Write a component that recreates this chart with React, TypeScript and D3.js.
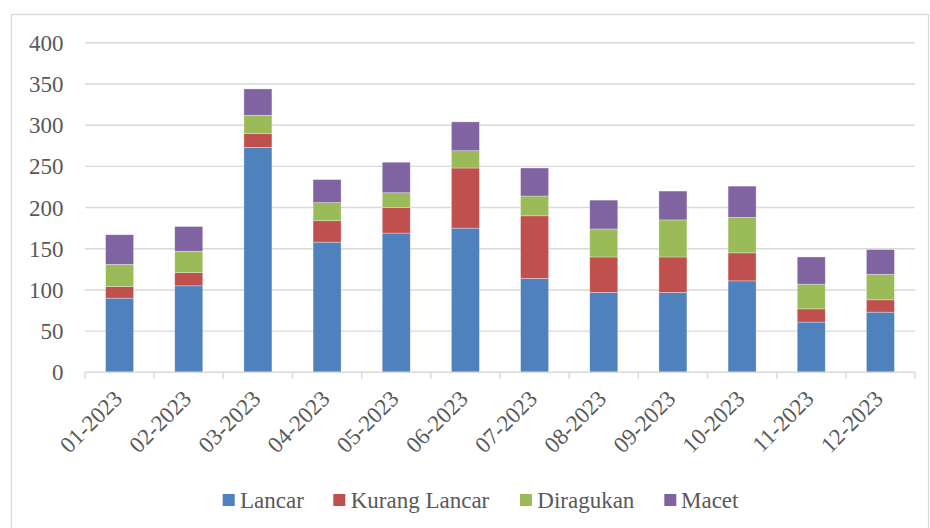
import React from "react";
import * as d3 from "d3";

const categories = ["01-2023","02-2023","03-2023","04-2023","05-2023","06-2023","07-2023","08-2023","09-2023","10-2023","11-2023","12-2023"];
const lancar = [90, 105, 273, 158, 169, 175, 114, 97, 97, 111, 61, 73];
const kurangLancar = [14, 16, 17, 26, 31, 73, 76, 43, 43, 34, 16, 15];
const diragukan = [27, 26, 22, 22, 18, 21, 24, 34, 45, 43, 30, 31];
const macet = [36, 30, 32, 28, 37, 35, 34, 35, 35, 38, 33, 30];
const seriesNames = ["Lancar", "Kurang Lancar", "Diragukan", "Macet"];
const seriesColors = ["#4F81BD", "#C0504D", "#9BBB59", "#8064A2"];
const yTicks = [0, 50, 100, 150, 200, 250, 300, 350, 400];

const W = 930, H = 528;
const plotL = 85, plotR = 915, plotTop = 42.8, plotBottom = 372.3;
const TEXT = "#595959";
const GRID = "#d9d9d9";
const txtStyle: React.CSSProperties = { fontFamily: '"Liberation Serif"', fontSize: 23 };

export default function App() {
  const x = d3.scaleBand<string>().domain(categories).range([plotL, plotR]).padding(0);
  const y = d3.scaleLinear().domain([0, 400]).range([plotBottom, plotTop]);
  const rows = categories.map((c, i) => ({
    cat: c,
    Lancar: lancar[i],
    "Kurang Lancar": kurangLancar[i],
    Diragukan: diragukan[i],
    Macet: macet[i],
  }));
  const stacked = d3.stack<any>().keys(seriesNames)(rows);
  const barW = x.bandwidth() * 0.405;

  const legendItems = [
    { name: "Lancar", sx: 222.7, tx: 240 },
    { name: "Kurang Lancar", sx: 333.3, tx: 350.7 },
    { name: "Diragukan", sx: 520, tx: 537.3 },
    { name: "Macet", sx: 664.3, tx: 681 },
  ];

  return (
    <svg width={W} height={H} style={{ position: "absolute", left: 0, top: 0, background: "#fff" }}>
      <style>{`text { font-family: "Liberation Serif", serif; }`}</style>
      <rect x={11.5} y={14.5} width={917} height={540} fill="#fff" stroke={GRID} strokeWidth={1.3} />
      {yTicks.map((t) => (
        <g key={t}>
          {t > 0 && <line x1={plotL} x2={plotR} y1={y(t)} y2={y(t)} stroke={GRID} strokeWidth={1.4} />}
          <text x={63.5} y={y(t) + 8} textAnchor="end" fill={TEXT} style={txtStyle}>{t}</text>
        </g>
      ))}
      {stacked.map((s, si) => (
        <g key={s.key} fill={seriesColors[si]}>
          {s.map((d, i) => (
            <rect
              key={i}
              x={(x(categories[i]) as number) + x.bandwidth() / 2 - barW / 2}
              y={y(d[1])}
              width={barW}
              height={y(d[0]) - y(d[1])}
              stroke="#ffffff"
              strokeOpacity={0.45}
              strokeWidth={0.7}
            />
          ))}
        </g>
      ))}
      <line x1={plotL} x2={plotR} y1={plotBottom} y2={plotBottom} stroke={GRID} strokeWidth={1.4} />
      {d3.range(categories.length + 1).map((i) => {
        const xx = plotL + i * x.step();
        return <line key={i} x1={xx} x2={xx} y1={plotBottom} y2={plotBottom + 6.5} stroke={GRID} strokeWidth={1.4} />;
      })}
      {categories.map((c) => {
        const cx = (x(c) as number) + x.bandwidth() / 2;
        const ax = cx + 4, ay = 400;
        return (
          <text key={c} x={ax} y={ay} textAnchor="end" fill={TEXT} style={txtStyle} transform={`rotate(-45 ${ax} ${ay})`}>{c}</text>
        );
      })}
      {legendItems.map((l, i) => (
        <g key={l.name}>
          <rect x={l.sx} y={494} width={12} height={12} fill={seriesColors[i]} />
          <text x={l.tx} y={507.5} fill={TEXT} style={txtStyle}>{l.name}</text>
        </g>
      ))}
    </svg>
  );
}
